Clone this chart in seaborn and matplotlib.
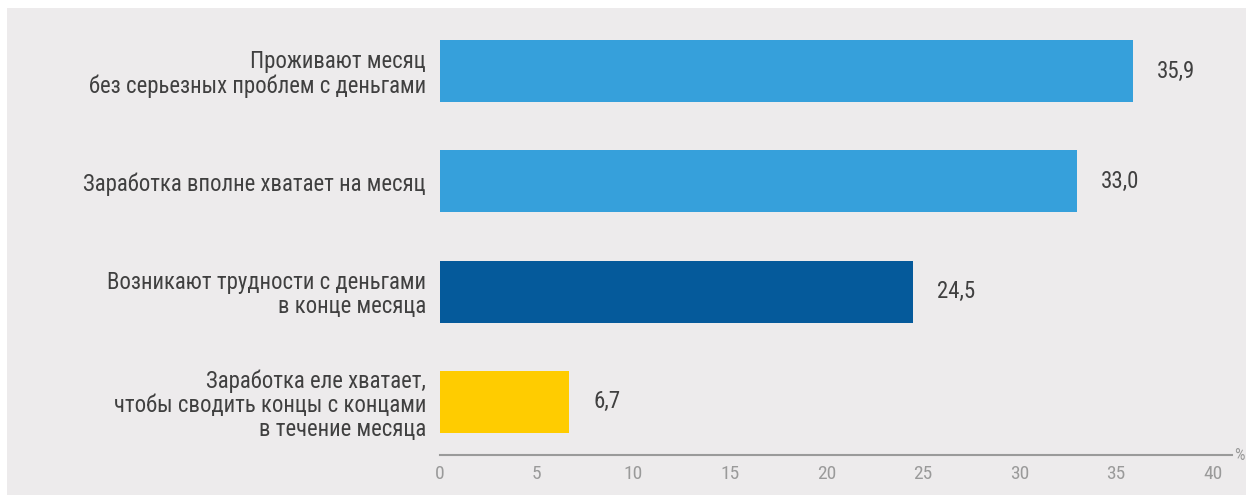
import matplotlib
matplotlib.use('Agg')
import matplotlib.pyplot as plt
import seaborn as sns
import pandas as pd
from matplotlib.patches import Rectangle

categories = [
    'Проживают месяц\nбез серьезных проблем с деньгами',
    'Заработка вполне хватает на месяц',
    'Возникают трудности с деньгами\nв конце месяца',
    'Заработка еле хватает,\nчтобы сводить концы с концами\nв течение месяца',
]
values = [35.9, 33.0, 24.5, 6.7]
colors = ['#36A0DB', '#36A0DB', '#055A9B', '#FFCC00']
xticks = [0, 5, 10, 15, 20, 25, 30, 35, 40]

sns.set_style('white')
plt.rcParams['font.family'] = ['Roboto Condensed', 'Roboto', 'DejaVu Sans']

df = pd.DataFrame({'cat': categories, 'val': values})

fig = plt.figure(figsize=(12.46, 4.95), dpi=100, facecolor='white')
# grey panel behind the chart
fig.patches.append(Rectangle((7 / 1246, 0), 1, 1 - 8 / 495, transform=fig.transFigure,
                             facecolor='#EDEBEC', edgecolor='none', zorder=-1))

ax = fig.add_axes([440 / 1246, 40 / 495, (1232 - 440) / 1246, 440 / 495])
ax.set_facecolor('none')

sns.barplot(data=df, x='val', y='cat', hue='cat', palette=colors, orient='h',
            width=0.56, legend=False, ax=ax, saturation=1, linewidth=0)

for cont, v in zip(ax.containers, values):
    ax.bar_label(cont, labels=[f'{v:.1f}'.replace('.', ',')], padding=17,
                 fontsize=16.5, color='#404040')

ax.set_xlim(0, 41.0)
ax.set_ylim(3.481, -0.508)
ax.set_xticks(xticks)
ax.set_xticklabels([str(t) for t in xticks])
ax.tick_params(axis='x', colors='#9A9A9A', labelsize=14, length=0, pad=7)
ax.tick_params(axis='y', colors='#404040', labelsize=16.4, length=0, pad=10)
for lbl in ax.get_yticklabels():
    lbl.set_linespacing(1.05)
ax.set_xlabel('')
ax.set_ylabel('')

for side in ['top', 'right', 'left']:
    ax.spines[side].set_visible(False)
ax.spines['bottom'].set_color('#9A9A9A')
ax.spines['bottom'].set_linewidth(1.5)

fig.text(1234 / 1246, 1 - 455 / 495, '%', color='#9A9A9A', fontsize=12,
         ha='left', va='center')

fig.savefig('out.png', dpi=100, facecolor='white')
